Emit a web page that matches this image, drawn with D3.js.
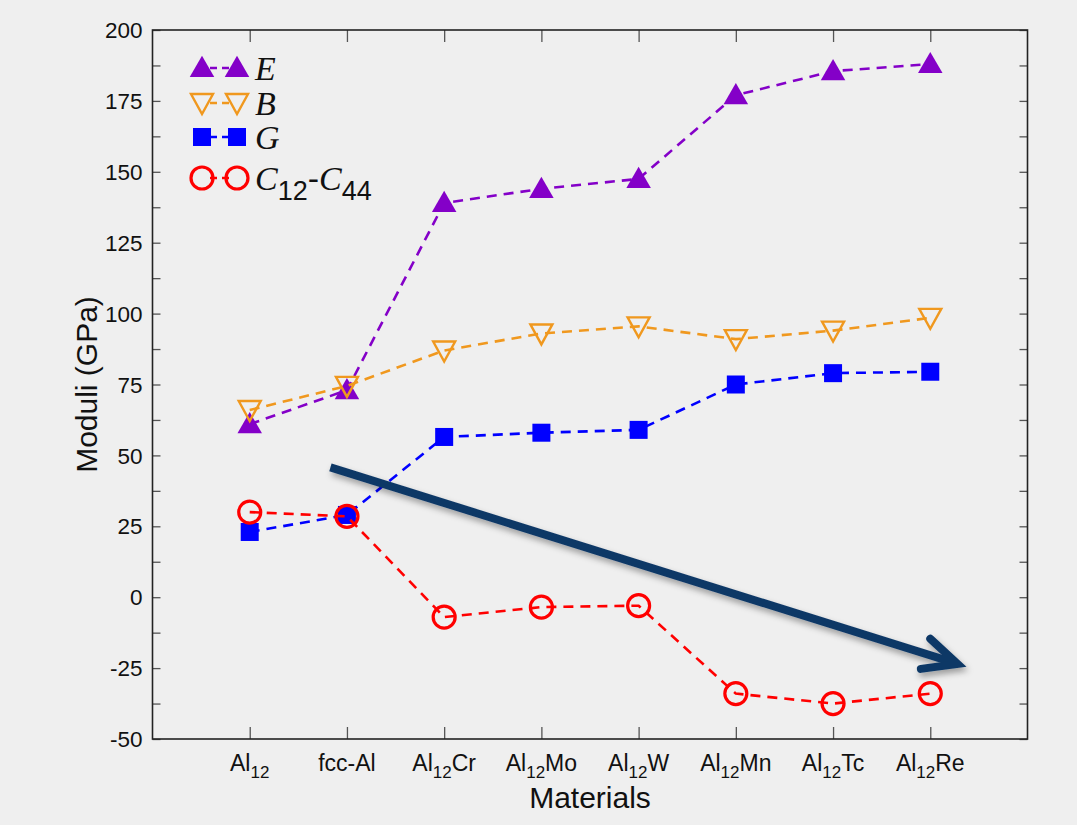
<!DOCTYPE html>
<html>
<head>
<meta charset="utf-8">
<script src="https://cdn.jsdelivr.net/npm/d3@7"></script>
<style>
  body { margin: 0; background: #efefef; }
  svg { display: block; font-family: "Liberation Sans", Arial, sans-serif; }
</style>
</head>
<body>
<div class="canvas"></div>
<script>
const materials = ['Al12', 'fcc-Al', 'Al12Cr', 'Al12Mo', 'Al12W', 'Al12Mn', 'Al12Tc', 'Al12Re']
const eValues = [61, 73, 139, 144, 147.5, 177, 185.5, 188]
const bValues = [66, 74.5, 87, 93, 95.5, 91, 94, 98.5]
const gValues = [23, 29, 56.5, 58, 59, 75, 79, 79.5]
const cValues = [30, 28.5, -7, -3.5, -3, -34, -37.5, -34]
const yTicks = [-50, -25, 0, 25, 50, 75, 100, 125, 150, 175, 200]

const width = 1077
const height = 825
const margin = { top: 30, right: 49.5, bottom: 86, left: 152.5 }

const svg = d3.select('.canvas').append('svg')
  .attr('width', width)
  .attr('height', height)

svg.append('rect')
  .attr('width', width)
  .attr('height', height)
  .attr('fill', '#efefef')

const x = d3.scaleLinear()
  .domain([0, materials.length + 1])
  .range([margin.left, width - margin.right])

const y = d3.scaleLinear()
  .domain([-50, 200])
  .range([height - margin.bottom, margin.top])

const defs = svg.append('defs')
const shadow = defs.append('filter').attr('id', 'shadow')
  .attr('x', '-10%').attr('y', '-10%').attr('width', '120%').attr('height', '140%')
shadow.append('feDropShadow')
  .attr('dx', 2).attr('dy', 4).attr('stdDeviation', 3)
  .attr('flood-color', '#000').attr('flood-opacity', 0.35)

// axes: ticks pointing inward on all four sides
const xPos = materials.map((m, i) => i + 1)
const yMinor = d3.range(-50, 200.1, 12.5)

svg.append('g')
  .attr('transform', `translate(0,${y(-50)})`)
  .call(d3.axisBottom(x).tickValues(xPos).tickSize(-12).tickFormat(''))
svg.append('g')
  .attr('transform', `translate(0,${y(200)})`)
  .call(d3.axisTop(x).tickValues(xPos).tickSize(-12).tickFormat(''))
svg.append('g')
  .attr('transform', `translate(${x(0)},0)`)
  .call(d3.axisLeft(y).tickValues(yMinor).tickSize(-8).tickFormat(''))
svg.append('g')
  .attr('transform', `translate(${x(9)},0)`)
  .call(d3.axisRight(y).tickValues(yMinor).tickSize(-8).tickFormat(''))

svg.selectAll('.domain').remove()
svg.selectAll('.tick line').attr('stroke', '#555').attr('stroke-width', 1.3)

svg.append('rect')
  .attr('x', x(0))
  .attr('y', y(200))
  .attr('width', x(9) - x(0))
  .attr('height', y(-50) - y(200))
  .attr('fill', 'none')
  .attr('stroke', '#222')
  .attr('stroke-width', 1.6)

// y tick labels
svg.append('g').selectAll('text')
  .data(yTicks)
  .enter().append('text')
  .attr('x', x(0) - 10)
  .attr('y', d => y(d))
  .attr('dy', '0.36em')
  .attr('text-anchor', 'end')
  .attr('font-size', 22.5)
  .attr('fill', '#111')
  .text(d => d)

// x tick labels with subscripts
const xLabels = svg.append('g').selectAll('text')
  .data(materials)
  .enter().append('text')
  .attr('x', (d, i) => x(i + 1))
  .attr('y', 771)
  .attr('text-anchor', 'middle')
  .attr('font-size', 23)
  .attr('fill', '#111')

xLabels.each(function (d) {
  const t = d3.select(this)
  const m = d.match(/^Al12(.*)$/)
  if (!m) { t.text(d); return }
  t.append('tspan').text('Al')
  t.append('tspan').attr('font-size', 17).attr('dy', 7).text('12')
  if (m[1]) t.append('tspan').attr('dy', -7).text(m[1])
})

svg.append('text')
  .attr('x', (x(0) + x(9)) / 2)
  .attr('y', 808)
  .attr('text-anchor', 'middle')
  .attr('font-size', 30)
  .attr('fill', '#111')
  .text('Materials')

svg.append('text')
  .attr('transform', `translate(97,${(y(200) + y(-50)) / 2}) rotate(-90)`)
  .attr('text-anchor', 'middle')
  .attr('font-size', 30)
  .attr('fill', '#111')
  .text('Moduli (GPa)')

// series
const triUp = d3.symbol().type(d3.symbolTriangle).size(260)
const triDown = 'M-11,-7L11,-7L0,13Z'
const series = [
  { key: 'E', values: eValues, color: '#8400c8', marker: 'up' },
  { key: 'B', values: bValues, color: '#f0981e', marker: 'down' },
  { key: 'G', values: gValues, color: '#0000ff', marker: 'square' },
  { key: 'C', values: cValues, color: '#ff0000', marker: 'circle' }
]

function drawMarker (g, s) {
  if (s.marker === 'up') {
    g.append('path').attr('d', triUp()).attr('transform', 'translate(0,2)').attr('fill', s.color)
  } else if (s.marker === 'down') {
    g.append('path').attr('d', triDown).attr('transform', 'translate(0,-2)')
      .attr('fill', 'none').attr('stroke', s.color).attr('stroke-width', 2.4)
  } else if (s.marker === 'square') {
    g.append('rect').attr('x', -9).attr('y', -9).attr('width', 18).attr('height', 18).attr('fill', s.color)
  } else {
    g.append('circle').attr('r', 11).attr('fill', 'none').attr('stroke', s.color).attr('stroke-width', 3.2)
  }
}

const line = d3.line()
  .x((d, i) => x(i + 1))
  .y(d => y(d))

series.forEach(s => {
  const g = svg.append('g')
  g.selectAll('g.pt')
    .data(s.values)
    .enter().append('g')
    .attr('class', 'pt')
    .attr('transform', (d, i) => `translate(${x(i + 1)},${y(d)})`)
    .each(function () { drawMarker(d3.select(this), s) })
  g.append('path')
    .datum(s.values)
    .attr('d', line)
    .attr('fill', 'none')
    .attr('stroke', s.color)
    .attr('stroke-width', 2.6)
    .attr('stroke-dasharray', '10,7')
})

// annotation arrow (in data units)
const arrowStart = [1.83, 45.8]
const arrowEnd = [8.28, -23.5]
const ax0 = x(arrowStart[0]), ay0 = y(arrowStart[1])
const ax1 = x(arrowEnd[0]), ay1 = y(arrowEnd[1])
const ang = Math.atan2(ay1 - ay0, ax1 - ax0)
const headLen = 37
const headAng = 0.44
const arrow = svg.append('g').attr('filter', 'url(#shadow)')
arrow.append('line')
  .attr('x1', ax0).attr('y1', ay0)
  .attr('x2', ax1 - 4 * Math.cos(ang)).attr('y2', ay1 - 4 * Math.sin(ang))
  .attr('stroke', '#0e3866')
  .attr('stroke-width', 8)
arrow.append('path')
  .attr('d', `M${ax1 - headLen * Math.cos(ang - headAng)},${ay1 - headLen * Math.sin(ang - headAng)}` +
    `L${ax1},${ay1}` +
    `L${ax1 - headLen * Math.cos(ang + headAng)},${ay1 - headLen * Math.sin(ang + headAng)}`)
  .attr('fill', 'none')
  .attr('stroke', '#0e3866')
  .attr('stroke-width', 8)
  .attr('stroke-linecap', 'round')
  .attr('stroke-linejoin', 'miter')

// legend
const legendRows = [68, 103, 137, 178]
const legend = svg.append('g')
series.forEach((s, i) => {
  const row = legend.append('g').attr('transform', `translate(0,${legendRows[i]})`)
  ;[202, 237].forEach(mx => drawMarker(row.append('g').attr('transform', `translate(${mx},0)`), s))
  row.append('line')
    .attr('x1', 208).attr('x2', 231)
    .attr('stroke', s.color).attr('stroke-width', 2.6)
    .attr('stroke-dasharray', '7,5').attr('stroke-dashoffset', -2)
  const t = row.append('text')
    .attr('x', 255)
    .attr('y', 12)
    .attr('font-family', '"Liberation Serif", "Times New Roman", serif')
    .attr('font-size', 34)
    .attr('fill', '#111')
  if (s.key === 'C') {
    t.append('tspan').attr('font-style', 'italic').text('C')
    t.append('tspan').attr('font-family', '"Liberation Sans", Arial, sans-serif')
      .attr('font-size', 27).attr('dy', 10).text('12')
    t.append('tspan').attr('font-family', '"Liberation Sans", Arial, sans-serif')
      .attr('dy', -10).text('-')
    t.append('tspan').attr('font-style', 'italic').text('C')
    t.append('tspan').attr('font-family', '"Liberation Sans", Arial, sans-serif')
      .attr('font-size', 27).attr('dy', 10).text('44')
  } else {
    t.attr('font-style', 'italic').text(s.key)
  }
})
</script>
</body>
</html>
